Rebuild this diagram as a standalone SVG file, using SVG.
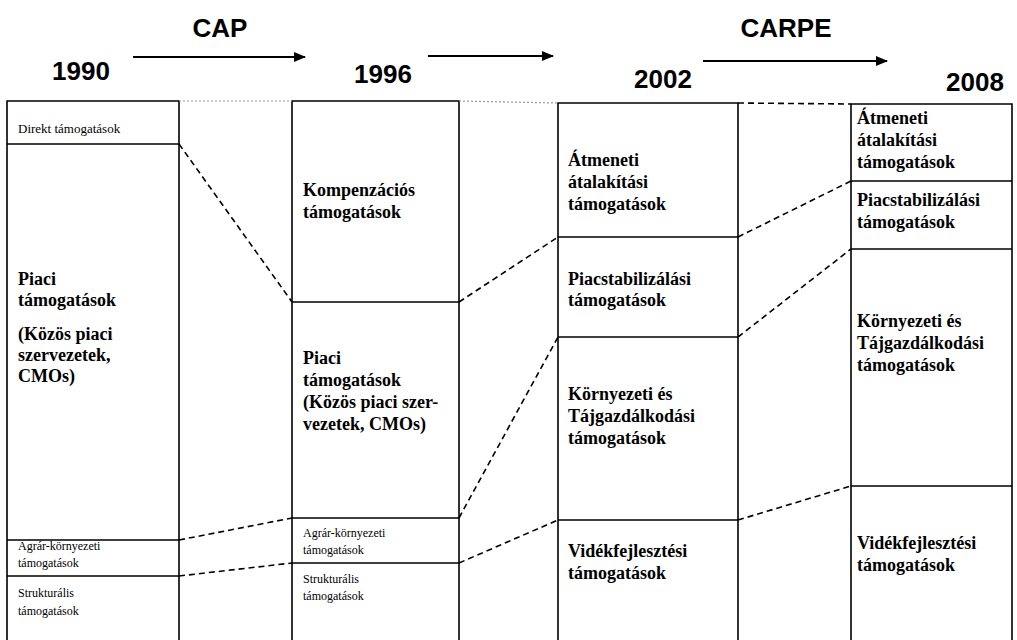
<svg xmlns="http://www.w3.org/2000/svg" width="1017" height="640" viewBox="0 0 1017 640">
<style>
.hd{font-family:"Liberation Sans",Arial,sans-serif;font-weight:bold;font-size:26px;fill:#000}
.b{font-family:"Liberation Serif","Times New Roman",serif;font-weight:bold;font-size:18px;fill:#000}
.s{font-family:"Liberation Serif","Times New Roman",serif;font-size:13px;fill:#000}
.xs{font-family:"Liberation Serif","Times New Roman",serif;font-size:12px;fill:#000}
.box{fill:none;stroke:#000;stroke-width:1.6}
.dash{fill:none;stroke:#000;stroke-width:1.6;stroke-dasharray:6,4}
.dot{fill:none;stroke:#999;stroke-width:1.2;stroke-dasharray:2,2}
.arr{stroke:#000;stroke-width:2.2}
</style>
<defs>
<marker id="ah" markerWidth="12" markerHeight="10" refX="11" refY="5" orient="auto" markerUnits="userSpaceOnUse">
<path d="M0,0 L12,5 L0,10 Z" fill="#000"/>
</marker>
</defs>
<rect width="1017" height="640" fill="#fff"/>
<g id="header">
<text class="hd" x="220" y="37" text-anchor="middle">CAP</text>
<text class="hd" x="786" y="37" text-anchor="middle">CARPE</text>
<text class="hd" x="52" y="80">1990</text>
<text class="hd" x="354" y="83">1996</text>
<text class="hd" x="634" y="88">2002</text>
<text class="hd" x="946" y="91">2008</text>
<line class="arr" x1="133" y1="57" x2="305" y2="57" marker-end="url(#ah)"/>
<line class="arr" x1="428" y1="56" x2="553" y2="56" marker-end="url(#ah)"/>
<line class="arr" x1="703" y1="61" x2="887" y2="61" marker-end="url(#ah)"/>
</g>
<g id="col1990">
<path class="box" d="M7,640 V101 H179 V640 M7,144 H179 M7,540 H179 M7,576 H179"/>
<text class="s" x="18" y="133">Direkt támogatások</text>
<text class="b" x="18" y="285">Piaci</text>
<text class="b" x="18" y="306">támogatások</text>
<text class="b" x="18" y="340">(Közös piaci</text>
<text class="b" x="18" y="361">szervezetek,</text>
<text class="b" x="18" y="382">CMOs)</text>
<text class="xs" x="18" y="550">Agrár-környezeti</text>
<text class="xs" x="18" y="567">támogatások</text>
<text class="xs" x="18" y="597">Strukturális</text>
<text class="xs" x="18" y="615">támogatások</text>
</g>
<g id="col1996">
<path class="box" d="M292,640 V101 H459 V640 M292,302 H459 M292,518 H459 M292,563 H459"/>
<text class="b" x="303" y="196">Kompenzációs</text>
<text class="b" x="303" y="218">támogatások</text>
<text class="b" x="303" y="364">Piaci</text>
<text class="b" x="303" y="386">támogatások</text>
<text class="b" x="303" y="408">(Közös piaci szer-</text>
<text class="b" x="303" y="430">vezetek, CMOs)</text>
<text class="xs" x="303" y="537">Agrár-környezeti</text>
<text class="xs" x="303" y="554">támogatások</text>
<text class="xs" x="303" y="583">Strukturális</text>
<text class="xs" x="303" y="600">támogatások</text>
</g>
<g id="col2002">
<path class="box" d="M558,640 V103 H738 V640 M558,237 H738 M558,337 H738 M558,520 H738"/>
<text class="b" x="568" y="166">Átmeneti</text>
<text class="b" x="568" y="188">átalakítási</text>
<text class="b" x="568" y="210">támogatások</text>
<text class="b" x="568" y="285">Piacstabilizálási</text>
<text class="b" x="568" y="306">támogatások</text>
<text class="b" x="568" y="400">Környezeti és</text>
<text class="b" x="568" y="422">Tájgazdálkodási</text>
<text class="b" x="568" y="444">támogatások</text>
<text class="b" x="568" y="557">Vidékfejlesztési</text>
<text class="b" x="568" y="579">támogatások</text>
</g>
<g id="col2008">
<path class="box" d="M851,640 V104 H1012 V640 M851,181 H1012 M851,249 H1012 M851,486 H1012"/>
<text class="b" x="857" y="124">Átmeneti</text>
<text class="b" x="857" y="146">átalakítási</text>
<text class="b" x="857" y="168">támogatások</text>
<text class="b" x="857" y="206">Piacstabilizálási</text>
<text class="b" x="857" y="228">támogatások</text>
<text class="b" x="857" y="327">Környezeti és</text>
<text class="b" x="857" y="349">Tájgazdálkodási</text>
<text class="b" x="857" y="371">támogatások</text>
<text class="b" x="857" y="549">Vidékfejlesztési</text>
<text class="b" x="857" y="571">támogatások</text>
</g>
<g id="connectors">
<line class="dot" x1="179" y1="101" x2="292" y2="101"/>
<line class="dot" x1="459" y1="101" x2="558" y2="103"/>
<line class="dash" x1="738" y1="103" x2="851" y2="104"/>
<line class="dash" x1="179" y1="144" x2="292" y2="302"/>
<line class="dash" x1="179" y1="540" x2="292" y2="518"/>
<line class="dash" x1="179" y1="576" x2="292" y2="563"/>
<line class="dash" x1="459" y1="302" x2="558" y2="237"/>
<line class="dash" x1="459" y1="518" x2="558" y2="337"/>
<line class="dash" x1="459" y1="563" x2="558" y2="520"/>
<line class="dash" x1="738" y1="237" x2="851" y2="181"/>
<line class="dash" x1="738" y1="337" x2="851" y2="249"/>
<line class="dash" x1="738" y1="520" x2="851" y2="486"/>
</g>
</svg>
